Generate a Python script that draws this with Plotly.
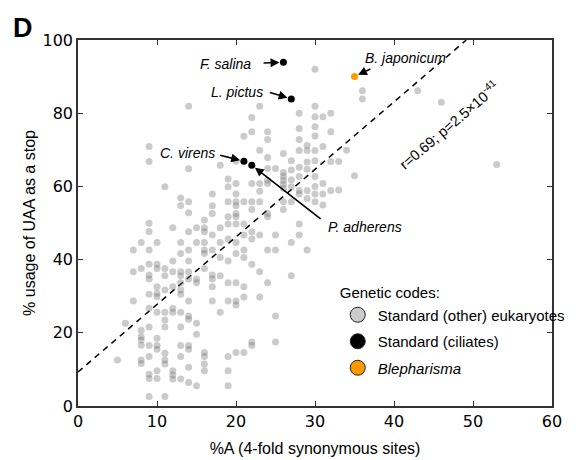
import plotly.graph_objects as go

# ---- data ----
grey_columns = [5, 6, 7, 8, 9, 10, 11, 12, 13, 14, 15, 16, 17, 18, 19, 20, 21, 22, 23, 24,
                25, 26, 27, 28, 29, 30, 31, 32, 33, 34, 35, 36, 43, 46, 53]
grey_values = [
    [12.6],
    [22.6],
    [42.6, 36.7, 28.7],
    [44.7, 37.6, 20.7, 18.9, 18.0, 16.6, 12.6, 11.6],
    [70.9, 66.8, 49.9, 47.7, 42.6, 38.7, 35.8, 34.7, 30.5, 26.7, 21.6, 16.5, 13.5, 8.7, 7.5, 2.6],
    [44.7, 38.7, 37.6, 32.6, 30.8, 29.9, 25.6, 18.5, 16.5, 15.5, 9.6, 7.5],
    [59.9, 37.6, 35.6, 31.7, 25.6, 23.5, 21.6, 14.4, 12.6, 11.5, 2.6],
    [48.7, 39.6, 36.7, 32.6, 26.7, 25.6, 9.6, 8.5, 7.4],
    [56.8, 54.8, 44.7, 41.7, 36.7, 35.6, 33.7, 31.7, 30.5, 25.6, 21.6, 16.5, 13.5, 7.4],
    [81.9, 64.8, 55.8, 52.8, 47.6, 42.6, 39.6, 36.7, 34.7, 28.7, 24.6, 23.7, 16.5, 15.5, 10.6, 6.4],
    [48.7, 44.7, 34.7, 33.7, 22.6, 19.6, 5.5],
    [50.8, 48.7, 47.6, 44.7, 42.6, 41.7, 37.6, 14.6, 13.5, 11.5, 9.6],
    [57.9, 54.7, 52.6, 46.7, 42.6, 35.8, 34.7, 32.6, 28.7],
    [65.8, 48.7, 44.7, 40.6, 35.6, 25.6],
    [62.0, 59.9, 55.8, 51.7, 49.7, 45.6, 39.6, 33.7, 28.7, 13.5, 9.6, 5.5],
    [66.9, 60.8, 57.9, 55.8, 54.7, 52.6, 51.7, 49.7, 44.7, 41.7, 33.7, 28.7, 27.6, 14.6],
    [73.7, 55.8, 49.7, 46.7, 42.6, 40.6, 32.6, 29.8, 14.6],
    [78.8, 74.9, 60.8, 55.8, 53.7, 47.6, 45.6, 38.7, 17.5, 16.5],
    [81.9, 69.9, 60.8, 58.7, 55.8, 46.7, 36.7, 29.8],
    [74.9, 72.8, 67.9, 64.9, 61.7, 60.8, 52.6, 51.7, 42.6, 33.7],
    [64.9, 46.7, 42.6, 24.6, 17.5],
    [69.0, 63.8, 62.8, 61.7, 60.6, 59.5, 55.8, 53.7],
    [67.0, 64.5, 61.8, 59.9, 55.8, 44.7, 35.6],
    [80.0, 75.8, 72.8, 69.8, 65.2, 62.7, 58.9, 57.9, 49.7, 46.7],
    [71.2, 69.8, 66.7, 64.7, 58.9, 56.7, 42.6],
    [92.0, 81.9, 79.0, 76.3, 73.8, 69.8, 67.0, 62.7, 60.0, 57.9, 55.8],
    [79.0, 70.9, 60.8, 57.9, 54.9],
    [80.0, 74.9, 66.8, 58.9],
    [66.8, 59.0],
    [69.9],
    [62.9],
    [86.1, 83.9],
    [86.1],
    [83.0],
    [66.0],
]

ciliate_x = [26, 27, 21, 22]
ciliate_y = [93.9, 83.9, 66.9, 65.8]
ciliate_names = ["F. salina", "L. pictus", "C. virens", "P. adherens"]

bleph_x = [35]
bleph_y = [90.0]
bleph_name = "B. japonicum"

fit_intercept = 9.3
fit_slope = 1.845
fit_label = "r=0.69; p=2.5×10<sup>-41</sup>"

legend_names = ["Standard (other) eukaryotes", "Standard (ciliates)", "<i>Blepharisma</i>"]

# ---- build ----
grey_x = [c for c, vals in zip(grey_columns, grey_values) for _ in vals]
grey_y = [v for vals in grey_values for v in vals]

GREY = "rgba(110,110,110,0.36)"
ORANGE = "#ff9900"
TXT = "Liberation Sans, Arial, sans-serif"
TICKF = "DejaVu Sans, sans-serif"

fig = go.Figure()

fit_x_end = (100 - fit_intercept) / fit_slope
fig.add_trace(go.Scatter(
    x=[0, fit_x_end], y=[fit_intercept, fit_intercept + fit_slope * fit_x_end],
    mode="lines", line=dict(color="black", width=1.5, dash="6px,5px"),
    showlegend=False, hoverinfo="skip"))

fig.add_trace(go.Scatter(x=grey_x, y=grey_y, mode="markers",
                         marker=dict(size=7, color=GREY, line=dict(width=0)),
                         showlegend=False))
fig.add_trace(go.Scatter(x=ciliate_x, y=ciliate_y, mode="markers",
                         marker=dict(size=7, color="black"), showlegend=False))
fig.add_trace(go.Scatter(x=bleph_x, y=bleph_y, mode="markers",
                         marker=dict(size=7, color=ORANGE), showlegend=False))

# legend entries
for i, (name, col) in enumerate(zip(legend_names, ["#cccccc", "black", ORANGE])):
    fig.add_trace(go.Scatter(x=[None], y=[None], mode="markers", name=name,
                             legendgroup=f"g{i}",
                             marker=dict(size=15, color=col, line=dict(color="#222", width=1))))

# annotations: labels (text centre) and arrows (tail -> point)
label_pos = {
    "F. salina": (18.7, 93.4),
    "L. pictus": (20.1, 85.8),
    "C. virens": (13.8, 69.1),
    "P. adherens": (36.3, 48.9),
    "B. japonicum": (41.5, 95.1),
}
arrow_tail = {
    "F. salina": (23.3, 93.7),
    "L. pictus": (24.1, 85.8),
    "C. virens": (17.8, 68.6),
    "P. adherens": (30.9, 50.8),
    "B. japonicum": (37.2, 92.3),
}
all_names = ciliate_names + [bleph_name]
all_x = ciliate_x + bleph_x
all_y = ciliate_y + bleph_y
for nm, px_, py_ in zip(all_names, all_x, all_y):
    lx, ly = label_pos[nm]
    fig.add_annotation(x=lx, y=ly, xref="x", yref="y", text=f"<i>{nm}</i>",
                       showarrow=False, font=dict(family=TXT, size=14, color="black"))
    tx, ty = arrow_tail[nm]
    fig.add_annotation(x=px_, y=py_, ax=tx, ay=ty, xref="x", yref="y", axref="x", ayref="y",
                       text="", showarrow=True, arrowhead=2, arrowsize=1.1, arrowwidth=1.6,
                       arrowcolor="black", standoff=4)

fig.add_annotation(x=46.9, y=76.8, xref="x", yref="y", text=fit_label, showarrow=False,
                   textangle=-40.5, font=dict(family=TXT, size=14.5, color="black"))

fig.add_annotation(x=-0.116, y=1.033, xref="paper", yref="paper", text="<b>D</b>",
                   xanchor="center", yanchor="middle",
                   showarrow=False, font=dict(family=TXT, size=27, color="black"))

axis_common = dict(showgrid=False, zeroline=False, showline=True, linecolor="#333",
                   linewidth=1.5, mirror="allticks", ticks="inside", ticklen=5,
                   tickwidth=1.2, tickcolor="#333", automargin=False,
                   tickfont=dict(family=TICKF, size=16, color="black"))

fig.update_layout(
    width=579, height=460,
    margin=dict(l=78, r=27, t=40, b=54, autoexpand=False),
    paper_bgcolor="white", plot_bgcolor="white",
    xaxis=dict(range=[0, 60], tickvals=[0, 10, 20, 30, 40, 50, 60], **axis_common,
               title=dict(text="%A (4-fold synonymous sites)", standoff=13,
                          font=dict(family=TXT, size=16, color="black"))),
    yaxis=dict(range=[0, 100], tickvals=[0, 20, 40, 60, 80, 100], **axis_common,
               title=dict(text="% usage of UAA as a stop", standoff=3,
                          font=dict(family=TXT, size=16, color="black"))),
    legend=dict(x=0.548, y=0.347, xanchor="left", yanchor="top",
                bgcolor="rgba(0,0,0,0)", font=dict(family=TXT, size=15, color="black"),
                title=dict(text="Genetic codes:", font=dict(family=TXT, size=15, color="black")),
                itemsizing="trace", tracegroupgap=4),
    showlegend=True,
)

fig.write_html("out.html")
